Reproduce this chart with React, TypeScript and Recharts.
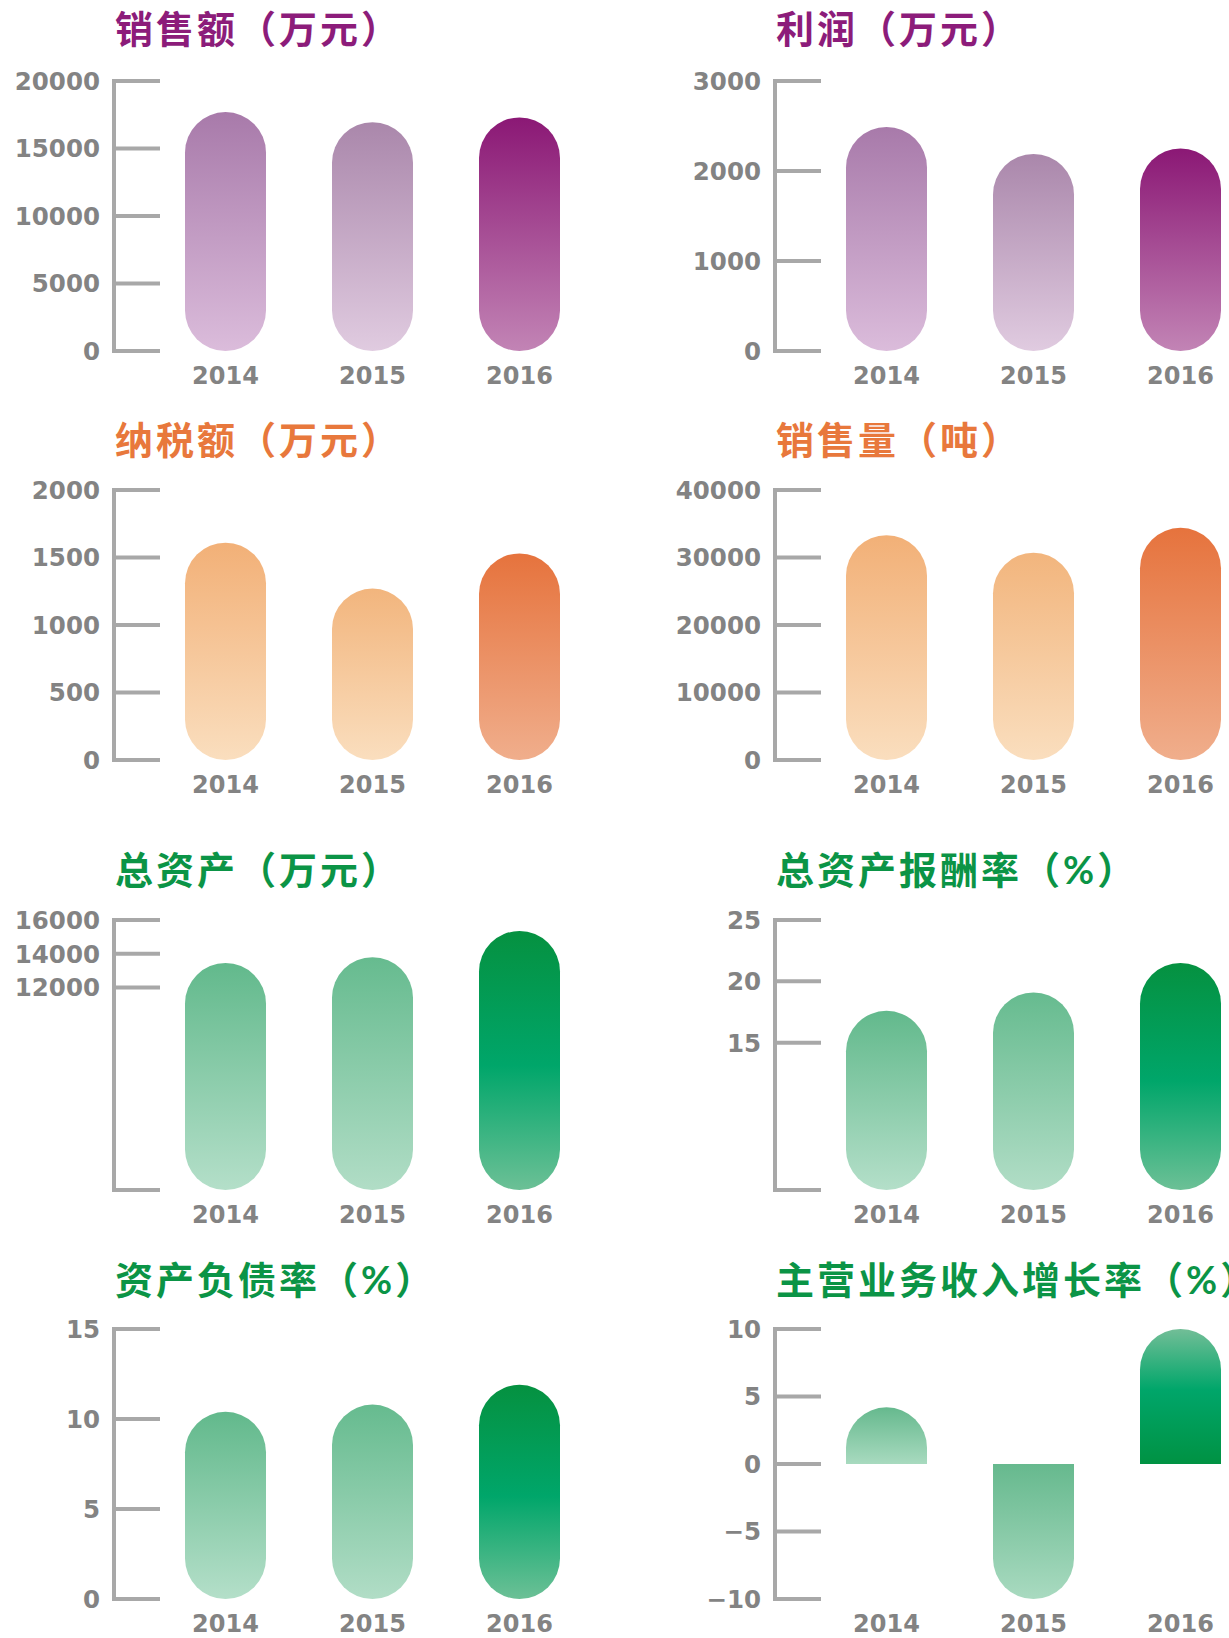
import React from 'react';
import { BarChart, Bar, XAxis, YAxis, Cell } from 'recharts';

// 年份
const years = ['2014', '2015', '2016'];

// 销售额（万元）
const salesAmount = [17700, 16950, 17300];
const salesAmountTicks = [0, 5000, 10000, 15000, 20000];

// 利润（万元）
const profit = [2490, 2190, 2250];
const profitTicks = [0, 1000, 2000, 3000];

// 纳税额（万元）
const taxPaid = [1610, 1270, 1530];
const taxPaidTicks = [0, 500, 1000, 1500, 2000];

// 销售量（吨）
const salesVolume = [33300, 30700, 34400];
const salesVolumeTicks = [0, 10000, 20000, 30000, 40000];

// 总资产（万元）
const totalAssets = [13450, 13800, 15350];
const totalAssetsTicks = [0, 12000, 14000, 16000];
const totalAssetsTickLabels = ['', '12000', '14000', '16000'];

// 总资产报酬率（%）
const returnOnAssets = [17.6, 19.1, 21.5];
const returnOnAssetsTicks = [3, 15, 20, 25];
const returnOnAssetsTickLabels = ['', '15', '20', '25'];

// 资产负债率（%）
const debtRatio = [10.4, 10.8, 11.9];
const debtRatioTicks = [0, 5, 10, 15];

// 主营业务收入增长率（%）
const revenueGrowth = [4.2, -10, 10];
const revenueGrowthTicks = [-10, -5, 0, 5, 10];
const revenueGrowthTickLabels = ['−10', '−5', '0', '5', '10'];

// bar gradients (top -> bottom)
const purpleBars = [
  [['0%', '#a87aaa'], ['100%', '#dbbcdb']],
  [['0%', '#aa87ab'], ['100%', '#e0cbe0']],
  [['0%', '#8b1875'], ['100%', '#c284b5']],
];
const orangeBars = [
  [['0%', '#f2b077'], ['100%', '#fadebe']],
  [['0%', '#f2b57d'], ['100%', '#fadebe']],
  [['0%', '#e6733d'], ['100%', '#f0ae8c']],
];
const greenBars = [
  [['0%', '#62b98c'], ['100%', '#b4dfc9']],
  [['0%', '#66bb8f'], ['100%', '#b1ddc6']],
  [['0%', '#059140'], ['52%', '#00a66a'], ['100%', '#6cc096']],
];
const growthBars = [
  [['0%', '#66b98e'], ['100%', '#a8dabf']],
  [['0%', '#66b98e'], ['100%', '#a9dac0']],
  [['0%', '#72be97'], ['45%', '#00a66a'], ['100%', '#009243']],
];

const PURPLE = '#8c1c7a';
const ORANGE = '#e8783c';
const GREEN = '#0b9446';
const AXIS = '#a8a8a8';
const LABEL = '#838383';
const NUM_FONT = '"DejaVu Sans"';

const COL_X = [0, 661];
const ROW_PLOT_TOP = [81, 490, 920, 1329];
const ROW_TITLE_TOP = [9, 420, 850, 1260];

const makeData = (values: number[]) => years.map((year, i) => ({ year, value: values[i] }));

function YTick(props: any) {
  const { x, y, payload, labels, ticks } = props;
  const axisX = x + 14;
  const idx = ticks.indexOf(payload.value);
  const text = labels ? labels[idx] : String(payload.value);
  return (
    <g>
      <line x1={axisX - 2} x2={axisX + 46} y1={y} y2={y} stroke={AXIS} strokeWidth={4} />
      {text && (
        <text
          x={x}
          y={y}
          dy="0.36em"
          textAnchor="end"
          fill={LABEL}
          fontFamily={NUM_FONT}
          fontWeight={700}
          fontSize={24.5}
        >
          {text}
        </text>
      )}
    </g>
  );
}

function PillShape(props: any) {
  const { x, y, width, height, fill, payload, halfPill } = props;
  const top = Math.min(y, y + height);
  const h = Math.abs(height);
  const w = width;
  if (!halfPill) {
    const r = Math.min(w / 2, h / 2);
    return <rect x={x} y={top} width={w} height={h} rx={r} ry={r} fill={fill} />;
  }
  const bottom = top + h;
  const rx = w / 2;
  const ry = Math.min(w / 2, h);
  const d =
    payload.value >= 0
      ? `M ${x} ${bottom} L ${x} ${top + ry} A ${rx} ${ry} 0 0 1 ${x + w} ${top + ry} L ${x + w} ${bottom} Z`
      : `M ${x} ${top} L ${x + w} ${top} L ${x + w} ${bottom - ry} A ${rx} ${ry} 0 0 1 ${x} ${bottom - ry} Z`;
  return <path d={d} fill={fill} />;
}

interface PanelProps {
  id: string;
  title: string;
  color: string;
  values: number[];
  ticks: number[];
  tickLabels?: string[];
  domain: [number, number];
  bars: string[][][];
  col: number;
  row: number;
  halfPill?: boolean;
}

function Panel({ id, title, color, values, ticks, tickLabels, domain, bars, col, row, halfPill }: PanelProps) {
  const data = makeData(values);
  const left = COL_X[col];
  return (
    <>
      <div
        style={{
          position: 'absolute',
          left: left + 115,
          top: ROW_TITLE_TOP[row],
          whiteSpace: 'nowrap',
          fontFamily: 'Lato, "Noto Sans CJK SC"',
          fontWeight: 700,
          fontSize: 38,
          lineHeight: '38px',
          letterSpacing: 3,
          color,
        }}
      >
        {title}
      </div>
      <div style={{ position: 'absolute', left, top: ROW_PLOT_TOP[row] - 30 }}>
        <BarChart
          width={600}
          height={345}
          data={data}
          margin={{ top: 30, right: 7, bottom: 0, left: 0 }}
          barSize={81}
        >
          <defs>
            {bars.map((stops, i) => (
              <linearGradient key={i} id={`${id}-g${i}`} x1="0" y1="0" x2="0" y2="1">
                {stops.map(([off, c]) => (
                  <stop key={off} offset={off} stopColor={c} />
                ))}
              </linearGradient>
            ))}
          </defs>
          <XAxis
            dataKey="year"
            axisLine={false}
            tickLine={false}
            tickSize={0}
            tickMargin={16}
            height={45}
            padding={{ left: 38, right: 0 }}
            tick={{ fill: LABEL, fontFamily: 'DejaVu Sans', fontWeight: 700, fontSize: 24 }}
            interval={0}
          />
          <YAxis
            width={114}
            domain={domain}
            ticks={ticks}
            interval={0}
            tickSize={0}
            tickMargin={14}
            tickLine={false}
            axisLine={{ stroke: AXIS, strokeWidth: 4 }}
            tick={(p: any) => <YTick {...p} ticks={ticks} labels={tickLabels} />}
          />
          <Bar
            dataKey="value"
            isAnimationActive={false}
            shape={(p: any) => <PillShape {...p} halfPill={halfPill} />}
          >
            {data.map((d, i) => (
              <Cell key={d.year} fill={`url(#${id}-g${i})`} />
            ))}
          </Bar>
        </BarChart>
      </div>
    </>
  );
}

export default function App() {
  return (
    <div
      style={{
        position: 'absolute',
        left: 0,
        top: 0,
        width: 1229,
        height: 1638,
        overflow: 'hidden',
        background: '#ffffff',
      }}
    >
      <Panel id="p1" title="销售额（万元）" color={PURPLE} values={salesAmount} ticks={salesAmountTicks}
        domain={[0, 20000]} bars={purpleBars} col={0} row={0} />
      <Panel id="p2" title="利润（万元）" color={PURPLE} values={profit} ticks={profitTicks}
        domain={[0, 3000]} bars={purpleBars} col={1} row={0} />
      <Panel id="p3" title="纳税额（万元）" color={ORANGE} values={taxPaid} ticks={taxPaidTicks}
        domain={[0, 2000]} bars={orangeBars} col={0} row={1} />
      <Panel id="p4" title="销售量（吨）" color={ORANGE} values={salesVolume} ticks={salesVolumeTicks}
        domain={[0, 40000]} bars={orangeBars} col={1} row={1} />
      <Panel id="p5" title="总资产（万元）" color={GREEN} values={totalAssets} ticks={totalAssetsTicks}
        tickLabels={totalAssetsTickLabels} domain={[0, 16000]} bars={greenBars} col={0} row={2} />
      <Panel id="p6" title="总资产报酬率（%）" color={GREEN} values={returnOnAssets} ticks={returnOnAssetsTicks}
        tickLabels={returnOnAssetsTickLabels} domain={[3, 25]} bars={greenBars} col={1} row={2} />
      <Panel id="p7" title="资产负债率（%）" color={GREEN} values={debtRatio} ticks={debtRatioTicks}
        domain={[0, 15]} bars={greenBars} col={0} row={3} />
      <Panel id="p8" title="主营业务收入增长率（%）" color={GREEN} values={revenueGrowth} ticks={revenueGrowthTicks}
        tickLabels={revenueGrowthTickLabels} domain={[-10, 10]} bars={growthBars} col={1} row={3} halfPill />
    </div>
  );
}
